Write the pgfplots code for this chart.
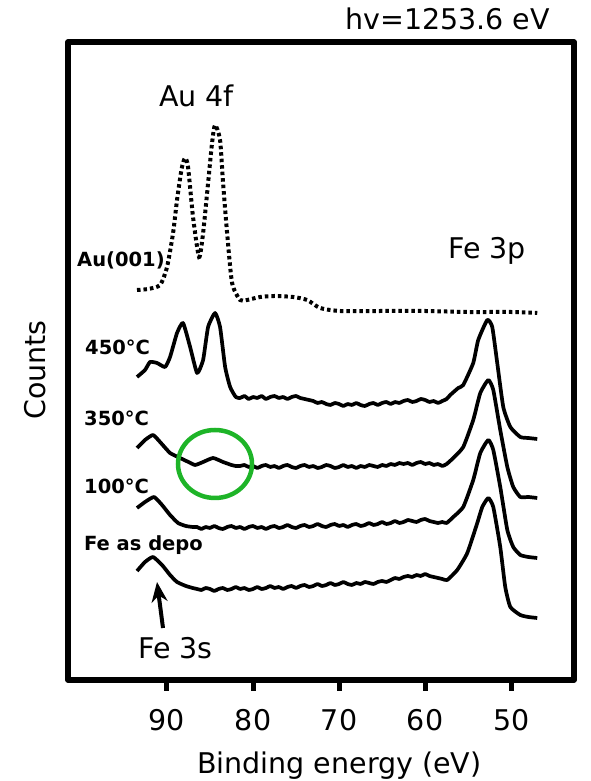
\documentclass[border=0pt]{standalone}
\usepackage{fontspec}
\setmainfont{DejaVu Sans}
\usepackage{pgfplots}
\pgfplotsset{compat=1.18}
\usetikzlibrary{arrows.meta}
\definecolor{cgreen}{RGB}{30,180,40}
\newcommand{\bigf}{\fontsize{28.5}{32}\selectfont}
\newcommand{\lblf}{\bfseries\fontsize{19.5}{22}\selectfont}

\pgfplotstableread{
x y
93.48 491
92.2 492
90.80 496
89.99 514
89.29 548
88.83 581
88.3 612
87.90 623
87.55 614
86.97 564
86.27 524
85.80 548
85.22 598
84.76 638
84.41 656
83.83 641
83.48 598
83.01 548
82.43 498
81.50 481
80.69 481
79.17 484
77.5 485
75.34 484
73.71 481
72.20 473
69.87 470
65 470
60 470
55 469
50 469
46.97 468
}\tAu

\pgfplotstableread{
x y
93.48 404
92.55 411
91.97 419
91.15 418
90.22 414
89.64 424
88.83 448
88.13 458
87.31 434
86.50 408
85.80 421
85.22 454
84.41 468
83.83 454
83.24 414
82.66 394
82.0 384
81.5 383
81 385
80.5 382
80 384
79.5 383
79 385
78.5 382
78 384
77.5 385
77 383
76.5 384
76 382
75.5 384
75 385
74.5 383
74 382
73.5 381
73 380
72.5 378
72 379
71.5 377
71 376
70.5 378
70 377
69.5 375
69 377
68.5 376
68 378
67.5 376
67 375
66.5 377
66 378
65.5 376
65 378
64.5 379
64 377
63.5 379
63 378
62.5 380
62 381
61.5 379
61 380
60.5 382
60 381
59.5 379
59 380
58.5 378
58 380
57.5 382
57.08 386
56.15 393
55.57 396
54.41 418
53.83 441
52.78 461
52.20 454
51.62 418
50.92 374
50.10 354
48.94 344
48 343
46.97 342
}\tA

\pgfplotstableread{
x y
93.48 333
92.55 341
91.62 346
90.80 339
89.64 328
88.48 323
87.5 319
86.73 316
85.80 319
84.64 323
83.48 319
82.5 316
82 315
81.5 315
81 316
80.5 314
80 315
79.5 313
79 315
78.5 316
78 314
77.5 315
77 313
76.5 315
76 316
75.5 314
75 313
74.5 315
74 316
73.5 314
73 315
72.5 313
72 314
71.5 316
71 315
70.5 313
70 314
69.5 316
69 314
68.5 315
68 313
67.5 315
67 314
66.5 316
66 315
65.5 314
65 316
64.5 315
64 317
63.5 316
63 318
62.5 317
62 318
61.5 316
61 318
60.5 319
60 317
59.5 318
59 316
58.5 317
58 315
57.5 317
56.73 323
55.57 334
54.41 361
53.59 388
52.66 401
52.08 391
51.27 351
50.45 314
49.76 294
48.94 284
48 284
46.97 283
}\tB

\pgfplotstableread{
x y
93.48 273
92.55 279
91.5 284
90.57 276
89.64 266
88.71 258
87.8 255
87 254
86.5 254
86 252
85.5 254
85 253
84.5 255
84 253
83.5 252
83 254
82.5 255
82 253
81.5 254
81 252
80.5 254
80 255
79.5 253
79 254
78.5 252
78 254
77.5 255
77 253
76.5 254
76 256
75.5 254
75 253
74.5 255
74 256
73.5 254
73 255
72.5 257
72 255
71.5 254
71 256
70.5 257
70 255
69.5 256
69 254
68.5 256
68 257
67.5 255
67 256
66.5 258
66 256
65.5 257
65 259
64.5 257
64 258
63.5 260
63 258
62.5 259
62 261
61.5 260
61 259
60.5 261
60 262
59.5 260
59 259
58.5 258
58 259
57.5 258
56.73 264
55.57 274
54.41 301
53.59 328
52.66 341
52.08 331
51.27 294
50.45 251
49.76 234
48.94 226
48 224
46.97 223
}\tC

\pgfplotstableread{
x y
93.48 210
92.55 219
91.62 224
90.57 216
89.64 206
88.83 199
87.8 195
87 193
86.5 192
86 191
85.5 193
85 192
84.5 190
84 192
83.5 193
83 191
82.5 192
82 194
81.5 192
81 193
80.5 191
80 192
79.5 194
79 192
78.5 193
78 195
77.5 193
77 194
76.5 192
76 194
75.5 195
75 193
74.5 195
74 196
73.5 194
73 195
72.5 197
72 195
71.5 196
71 198
70.5 196
70 197
69.5 199
69 197
68.5 196
68 198
67.5 197
67 199
66.5 198
66 197
65.5 199
65 200
64.5 199
64 201
63.5 203
63 202
62.5 204
62 205
61.5 204
61 206
60.5 205
60 207
59.5 205
59 204
58.5 203
58 202
57.43 201
56.27 211
55.10 228
53.94 258
53.36 274
52.66 283
52.08 274
51.27 234
50.69 194
50.10 174
48.94 166
48 164
46.97 163
}\tD

\begin{document}
\begin{tikzpicture}
\path[use as bounding box] (0,0) rectangle (590pt,781pt);
\begin{axis}[
  at={(68pt,101pt)}, anchor=south west,
  scale only axis, width=506pt, height=638pt,
  xmin=42.7, xmax=101.5, ymin=101, ymax=739,
  x dir=reverse,
  xtick={50,60,70,80,90}, xticklabels={}, ytick=\empty,
  xtick pos=bottom,
  tick align=outside, major tick length=11pt,
  xtick style={line width=5pt, black},
  axis line style={line width=5.5pt, line join=round},
  clip=false,
]
\addplot[black, line width=4pt, dash pattern=on 3.5pt off 3pt, smooth, tension=0.4] table[x=x,y=y] {\tAu};
\addplot[black, line width=3.7pt, smooth, tension=0.3, line join=round] table[x=x,y=y] {\tA};
\addplot[black, line width=3.7pt, smooth, tension=0.3, line join=round] table[x=x,y=y] {\tB};
\addplot[black, line width=3.7pt, smooth, tension=0.3, line join=round] table[x=x,y=y] {\tC};
\addplot[black, line width=3.7pt, smooth, tension=0.3, line join=round] table[x=x,y=y] {\tD};
\pgfplotsinvokeforeach{50,60,70,80,90}{
  \node[anchor=base, inner sep=0pt, font=\bigf] at (axis cs:#1,51) {#1};
}
\end{axis}
\node[anchor=base west, inner sep=0pt, font=\bigf] at (345pt,751pt) {hv=1253.6 eV};
\node[anchor=base west, inner sep=0pt, font=\bigf] at (159pt,674pt) {Au 4f};
\node[anchor=base west, inner sep=0pt, font=\bigf] at (448pt,522pt) {Fe 3p};
\node[anchor=base west, inner sep=0pt, font=\bigf] at (138pt,122pt) {Fe 3s};
\node[anchor=base west, inner sep=0pt, font=\bigf, rotate=90] at (45pt,361pt) {Counts};
\node[anchor=base west, inner sep=0pt, font=\bigf] at (197pt,8pt) {Binding energy (eV)};
\node[anchor=base west, inner sep=0pt, font=\lblf] at (77pt,514pt) {Au(001)};
\node[anchor=base west, inner sep=0pt, font=\lblf] at (85pt,426pt) {450°C};
\node[anchor=base west, inner sep=0pt, font=\lblf] at (84pt,355pt) {350°C};
\node[anchor=base west, inner sep=0pt, font=\lblf] at (84pt,287pt) {100°C};
\node[anchor=base west, inner sep=0pt, font=\lblf] at (84pt,230pt) {Fe as depo};
\draw[line width=4pt, -{Stealth[length=20pt,width=16pt]}] (163pt,153pt) -- (157pt,199pt);
\draw[cgreen, line width=4.5pt] (215pt,317pt) ellipse [x radius=37pt, y radius=34pt];
\end{tikzpicture}
\end{document}
